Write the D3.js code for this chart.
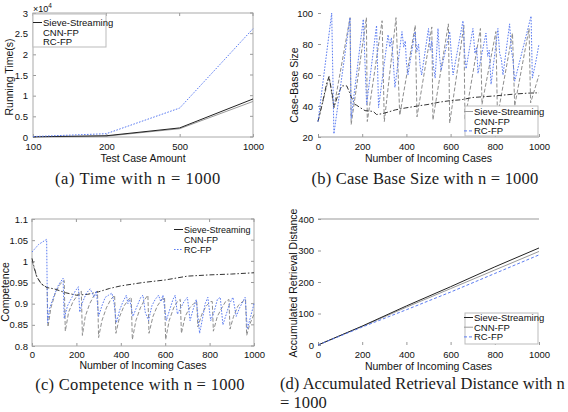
<!DOCTYPE html>
<html><head><meta charset="utf-8">
<script src="https://cdn.jsdelivr.net/npm/d3@7"></script>
<style>body{margin:0;background:#fff}svg{display:block}</style>
</head><body>
<svg id="chart" width="568" height="412"></svg>
<script>
// ---------------- DATA ----------------
const seriesNames = ["Sieve-Streaming", "CNN-FP", "RC-FP"];

// (a) Running time vs test case amount
const aCategories = ["100", "200", "500", "1000"];
const aSieve = [50, 300, 2200, 9200];
const aCNN = [50, 200, 2000, 8600];
const aRC = [100, 800, 7000, 26200];
const aYTicks = [0, 5000, 10000, 15000, 20000, 25000, 30000];

// (b) Case base size
const bSieveX = [0, 20, 40, 50, 55, 65, 72, 90, 107, 130, 145, 150, 167, 175, 190, 213, 250, 265, 290, 303, 350, 394, 450, 498, 550, 600, 647, 700, 750, 800, 850, 900, 950, 1000];
const bSieveY = [30, 42, 55, 59, 55, 47, 39, 47, 53, 53, 48, 46, 41, 40.5, 39, 37, 36.5, 34.5, 35, 35.5, 37.5, 38.7, 40, 41, 42.5, 43.5, 44, 45.5, 46, 46.5, 47.2, 47.8, 48.3, 48.5];
const bCNNX = [0, 50, 72, 145, 150, 219, 223, 290, 300, 353, 370, 440, 448, 515, 520, 590, 596, 660, 665, 735, 742, 805, 812, 880, 890, 955, 962, 1000];
const bCNNY = [30, 59, 39, 97, 28, 97, 30, 95, 30, 97, 34, 92, 33, 91, 31, 93, 29, 92, 31, 90, 41, 88, 33, 87, 40, 90, 42, 60];
const bRCX = [0, 62, 72, 145, 150, 205, 220, 265, 274, 317, 325, 332, 340, 348, 380, 388, 395, 400, 407, 439, 447, 455, 462, 469, 500, 508, 515, 522, 530, 543, 550, 557, 596, 604, 611, 656, 663, 670, 701, 710, 718, 724, 760, 768, 775, 783, 814, 822, 830, 837, 867, 875, 882, 890, 964, 970, 985, 1000];
const bRCY = [30, 100, 22, 97, 32, 96, 41, 92, 39, 86, 78, 84, 70, 52, 88, 78, 82, 68, 60, 88, 75, 80, 66, 60, 90, 76, 82, 66, 58, 90, 72, 63, 88, 72, 60, 95, 75, 64, 90, 74, 78, 61, 87, 72, 76, 54, 90, 74, 70, 60, 93, 76, 70, 56, 98, 58, 68, 80];
const bXTicks = [0, 200, 400, 600, 800, 1000];
const bYTicks = [20, 40, 60, 80, 100];

// (c) Competence
const cSieveX = [0, 10, 22, 40, 67, 100, 150, 200, 250, 300, 350, 400, 500, 600, 700, 800, 900, 1000];
const cSieveY = [1.007, 0.985, 0.964, 0.948, 0.938, 0.935, 0.926, 0.920, 0.922, 0.928, 0.936, 0.942, 0.950, 0.956, 0.965, 0.968, 0.970, 0.973];
const cCNNX = [0, 22, 45, 68, 72, 85, 105, 125, 145, 150, 165, 185, 205, 222, 227, 240, 260, 280, 295, 300, 315, 335, 355, 372, 378, 395, 415, 435, 447, 452, 468, 488, 508, 522, 527, 545, 565, 585, 597, 602, 618, 638, 655, 668, 673, 690, 710, 728, 742, 747, 765, 785, 805, 812, 817, 835, 855, 872, 887, 892, 908, 928, 948, 962, 967, 980, 1000];
const cCNNY = [1.0, 0.962, 0.945, 0.938, 0.845, 0.89, 0.925, 0.945, 0.955, 0.835, 0.88, 0.905, 0.92, 0.93, 0.825, 0.87, 0.9, 0.92, 0.93, 0.82, 0.86, 0.89, 0.91, 0.92, 0.83, 0.87, 0.895, 0.91, 0.915, 0.815, 0.86, 0.89, 0.91, 0.92, 0.83, 0.87, 0.895, 0.91, 0.915, 0.815, 0.86, 0.89, 0.905, 0.91, 0.83, 0.87, 0.89, 0.9, 0.905, 0.845, 0.875, 0.895, 0.905, 0.905, 0.835, 0.87, 0.89, 0.905, 0.91, 0.84, 0.87, 0.895, 0.905, 0.91, 0.825, 0.85, 0.875];
const cRCX = [0, 30, 66, 70, 80, 100, 120, 140, 145, 160, 180, 195, 209, 215, 225, 245, 262, 280, 290, 300, 315, 330, 345, 360, 370, 380, 395, 410, 425, 432, 440, 455, 470, 490, 500, 510, 525, 540, 555, 570, 580, 590, 605, 620, 635, 645, 655, 670, 685, 700, 712, 725, 740, 755, 770, 780, 792, 805, 820, 835, 848, 860, 875, 890, 905, 920, 935, 950, 960, 970, 985, 1000];
const cRCY = [1.022, 1.04, 1.052, 0.855, 0.89, 0.92, 0.945, 0.96, 0.865, 0.895, 0.915, 0.93, 0.94, 0.88, 0.9, 0.925, 0.935, 0.915, 0.93, 0.87, 0.895, 0.915, 0.92, 0.925, 0.9, 0.855, 0.885, 0.905, 0.92, 0.9, 0.91, 0.87, 0.89, 0.915, 0.92, 0.88, 0.86, 0.895, 0.91, 0.92, 0.905, 0.92, 0.86, 0.885, 0.91, 0.92, 0.875, 0.89, 0.905, 0.915, 0.86, 0.885, 0.91, 0.83, 0.87, 0.9, 0.915, 0.86, 0.88, 0.91, 0.915, 0.85, 0.875, 0.9, 0.915, 0.87, 0.89, 0.905, 0.915, 0.84, 0.87, 0.9];
const cYTicks = [0.8, 0.85, 0.9, 0.95, 1, 1.05, 1.1];

// (d) Accumulated retrieval distance
const dX = [0, 200, 400, 600, 800, 1000];
const dSieve = [0, 60, 124, 185, 248, 308];
const dCNN = [0, 59, 120, 179, 238, 297];
const dRC = [0, 57, 112, 168, 227, 286];
const dYTicks = [0, 100, 200, 300, 400];

const captions = ["(a) Time with n = 1000", "(b) Case Base Size with n = 1000", "(c) Competence with n = 1000", "(d) Accumulated Retrieval Distance with n", "= 1000"];

// ---------------- DRAWING ----------------
const svg = d3.select("#chart");
const SANS = "'Liberation Sans', Arial, Helvetica, sans-serif";
const SERIF = "'Liberation Serif', 'Times New Roman', serif";
const TICK_FS = 9.5, LAB_FS = 10.5, LEG_FS = 9.5, CAP_FS = 16.5;

const sty = {
  sieveSolid: {stroke: "#222", dash: null, w: 1},
  sieveDashDot: {stroke: "#333", dash: "5,2,1.5,2", w: 1},
  cnnSolid: {stroke: "#9a9a9a", dash: null, w: 1},
  cnnDash: {stroke: "#8e8e8e", dash: "4,2", w: 1},
  rcDot: {stroke: "#5b7cf2", dash: "1.6,1.4", w: 1},
  rcDash: {stroke: "#5b7cf2", dash: "3,2", w: 1}
};

function drawLine(g, pts, st) {
  g.append("path").datum(pts)
    .attr("fill", "none").attr("stroke", st.stroke).attr("stroke-width", st.w)
    .attr("stroke-dasharray", st.dash).attr("stroke-linejoin", "round")
    .attr("d", d3.line().x(d => d[0]).y(d => d[1]));
}

function zip(xs, ys, x, y) { return xs.map((v, i) => [x(v), y(ys[i])]); }

function axes(g, x, y, o) {
  const [x0, x1] = x.range(), [y1, y0] = y.range();
  const ax = g.append("g").attr("transform", `translate(0,${y1})`)
    .call((o.xAxis || d3.axisBottom(x)).tickSize(-3).tickPadding(o.xPad));
  ax.select(".domain").remove();
  ax.selectAll("line").attr("stroke", "#999");
  ax.selectAll("text").attr("font-family", SANS).attr("font-size", TICK_FS).attr("fill", "#111");
  const ay = g.append("g").attr("transform", `translate(${x0},0)`)
    .call(o.yAxis.tickSize(-3).tickPadding(o.yPad));
  ay.select(".domain").remove();
  ay.selectAll("line").attr("stroke", "#999");
  ay.selectAll("text").attr("font-family", SANS).attr("font-size", TICK_FS).attr("fill", "#111");
  if (o.box) {
    g.append("rect").attr("x", x0).attr("y", y0).attr("width", x1 - x0).attr("height", y1 - y0)
      .attr("fill", "none").attr("stroke", "#aaa").attr("stroke-width", 1);
    const xt = o.xTickVals.map(v => x(v));
    g.selectAll(null).data(xt).enter().append("line").attr("x1", d => d).attr("x2", d => d)
      .attr("y1", y0).attr("y2", y0 + 3).attr("stroke", "#999");
    g.selectAll(null).data(o.yTickVals.map(v => y(v))).enter().append("line").attr("y1", d => d).attr("y2", d => d)
      .attr("x1", x1).attr("x2", x1 - 3).attr("stroke", "#999");
  }
  if (o.bottomLine) g.append("line").attr("x1", x0).attr("x2", x1).attr("y1", y1).attr("y2", y1).attr("stroke", "#999");
  if (o.topLine) g.append("line").attr("x1", x0).attr("x2", x1).attr("y1", y0).attr("y2", y0).attr("stroke", "#999");
  g.append("text").attr("x", (x0 + x1) / 2).attr("y", o.xLabY).attr("text-anchor", "middle")
    .attr("font-family", SANS).attr("font-size", LAB_FS).attr("fill", "#111").text(o.xLabel);
  g.append("text").attr("transform", `translate(${o.yLabX},${o.yLabCY}) rotate(-90)`).attr("text-anchor", "middle")
    .attr("font-family", SANS).attr("font-size", LAB_FS).attr("fill", "#111").text(o.yLabel);
}

function legend(g, lx, ly, step, styles, box, fs) {
  if (box) {
    g.append("rect").attr("x", box[0]).attr("y", box[1]).attr("width", box[2]).attr("height", box[3])
      .attr("fill", "#fff").attr("stroke", "#bbb").attr("stroke-width", 1);
  }
  seriesNames.forEach((n, i) => {
    const yy = ly + i * step;
    if (styles[i]) {
      g.append("line").attr("x1", lx - 10).attr("x2", lx - 1).attr("y1", yy - 3.5).attr("y2", yy - 3.5)
        .attr("stroke", styles[i].stroke).attr("stroke-width", 1).attr("stroke-dasharray", styles[i].dash);
    }
    g.append("text").attr("x", lx).attr("y", yy).attr("font-family", SANS).attr("font-size", fs || LEG_FS)
      .attr("fill", "#111").text(n);
  });
}

function caption(txt, x, y, anchor, ls) {
  svg.append("text").attr("x", x).attr("y", y).attr("text-anchor", anchor || "middle")
    .attr("font-family", SERIF).attr("font-size", CAP_FS).attr("letter-spacing", ls == null ? 0.3 : ls)
    .attr("fill", "#1a1a1a").text(txt);
}

// ---- (a)
{
  const g = svg.append("g");
  const x = d3.scalePoint().domain(aCategories).range([33, 253]);
  const y = d3.scaleLinear().domain([0, 30000]).range([137, 13]);
  axes(g, x, y, {
    xAxis: d3.axisBottom(x), yAxis: d3.axisLeft(y).tickValues(aYTicks).tickFormat(d => d3.format("~g")(d / 1e4)),
    xPad: 6, yPad: 5, box: true, xTickVals: aCategories, yTickVals: aYTicks,
    xLabel: "Test Case Amount", xLabY: 162, yLabel: "Running Time(s)", yLabX: 13, yLabCY: 77
  });
  const ex = g.append("text").attr("x", 33).attr("y", 12).attr("font-family", SANS).attr("font-size", 9).attr("fill", "#111");
  ex.append("tspan").text("\u00d710");
  ex.append("tspan").attr("dy", -4).attr("font-size", 6.5).text("4");
  const pts = arr => aCategories.map((c, i) => [x(c), y(arr[i])]);
  drawLine(g, pts(aCNN), sty.cnnSolid);
  drawLine(g, pts(aSieve), sty.sieveSolid);
  drawLine(g, pts(aRC), sty.rcDot);
  legend(g, 43, 26, 9.7, [sty.sieveSolid, null, null], [33, 14, 73, 33]);
  caption(captions[0], 138, 184, "middle", 0.6);
}

// ---- (b)
{
  const g = svg.append("g");
  const x = d3.scaleLinear().domain([0, 1000]).range([318, 539]);
  const y = d3.scaleLinear().domain([20, 100]).range([137, 13]);
  axes(g, x, y, {
    xAxis: d3.axisBottom(x).tickValues(bXTicks).tickFormat(d3.format("d")),
    yAxis: d3.axisLeft(y).tickValues(bYTicks), xPad: 6, yPad: 5, bottomLine: true,
    xLabel: "Number of Incoming Cases", xLabY: 162, yLabel: "Case-Base Size", yLabX: 298, yLabCY: 85
  });
  drawLine(g, zip(bCNNX, bCNNY, x, y), sty.cnnDash);
  drawLine(g, zip(bSieveX, bSieveY, x, y), sty.sieveDashDot);
  drawLine(g, zip(bRCX, bRCY, x, y), sty.rcDot);
  legend(g, 474, 115, 9.7, [sty.cnnSolid, null, sty.rcDash], [465, 106, 73, 30]);
  caption(captions[1], 425, 184, "middle", 0.2);
}

// ---- (c)
{
  const g = svg.append("g");
  const x = d3.scaleLinear().domain([0, 1000]).range([32, 254]);
  const y = d3.scaleLinear().domain([0.8, 1.1]).range([346, 219]);
  axes(g, x, y, {
    xAxis: d3.axisBottom(x).tickValues(bXTicks).tickFormat(d3.format("d")),
    yAxis: d3.axisLeft(y).tickValues(cYTicks).tickFormat(d3.format("~g")), xPad: 5, yPad: 4,
    box: true, xTickVals: bXTicks, yTickVals: cYTicks,
    xLabel: "Number of Incoming Cases", xLabY: 369, yLabel: "Competence", yLabX: 9, yLabCY: 292
  });
  drawLine(g, zip(cCNNX, cCNNY, x, y), sty.cnnDash);
  drawLine(g, zip(cSieveX, cSieveY, x, y), sty.sieveDashDot);
  drawLine(g, zip(cRCX, cRCY, x, y), sty.rcDot);
  legend(g, 184, 233, 10, [sty.sieveSolid, null, sty.rcDot], null, 9);
  caption(captions[2], 140, 390, "middle", 0.3);
}

// ---- (d)
{
  const g = svg.append("g");
  const x = d3.scaleLinear().domain([0, 1000]).range([318, 539]);
  const y = d3.scaleLinear().domain([0, 400]).range([345, 219]);
  axes(g, x, y, {
    xAxis: d3.axisBottom(x).tickValues(bXTicks).tickFormat(d3.format("d")),
    yAxis: d3.axisLeft(y).tickValues(dYTicks), xPad: 6, yPad: 4, topLine: true,
    xLabel: "Number of Incoming Cases", xLabY: 370, yLabel: "Accumulated Retrieval Distance", yLabX: 297, yLabCY: 283
  });
  drawLine(g, zip(dX, dCNN, x, y), sty.cnnSolid);
  drawLine(g, zip(dX, dSieve, x, y), sty.sieveSolid);
  drawLine(g, zip(dX, dRC, x, y), sty.rcDash);
  legend(g, 474, 321, 9.7, [sty.sieveSolid, sty.cnnSolid, sty.rcDash], [465, 313, 73, 31]);
  caption(captions[3], 280, 389, "start", 0.05);
  caption(captions[4], 280, 408, "start", 0.05);
}
</script>
</body></html>
